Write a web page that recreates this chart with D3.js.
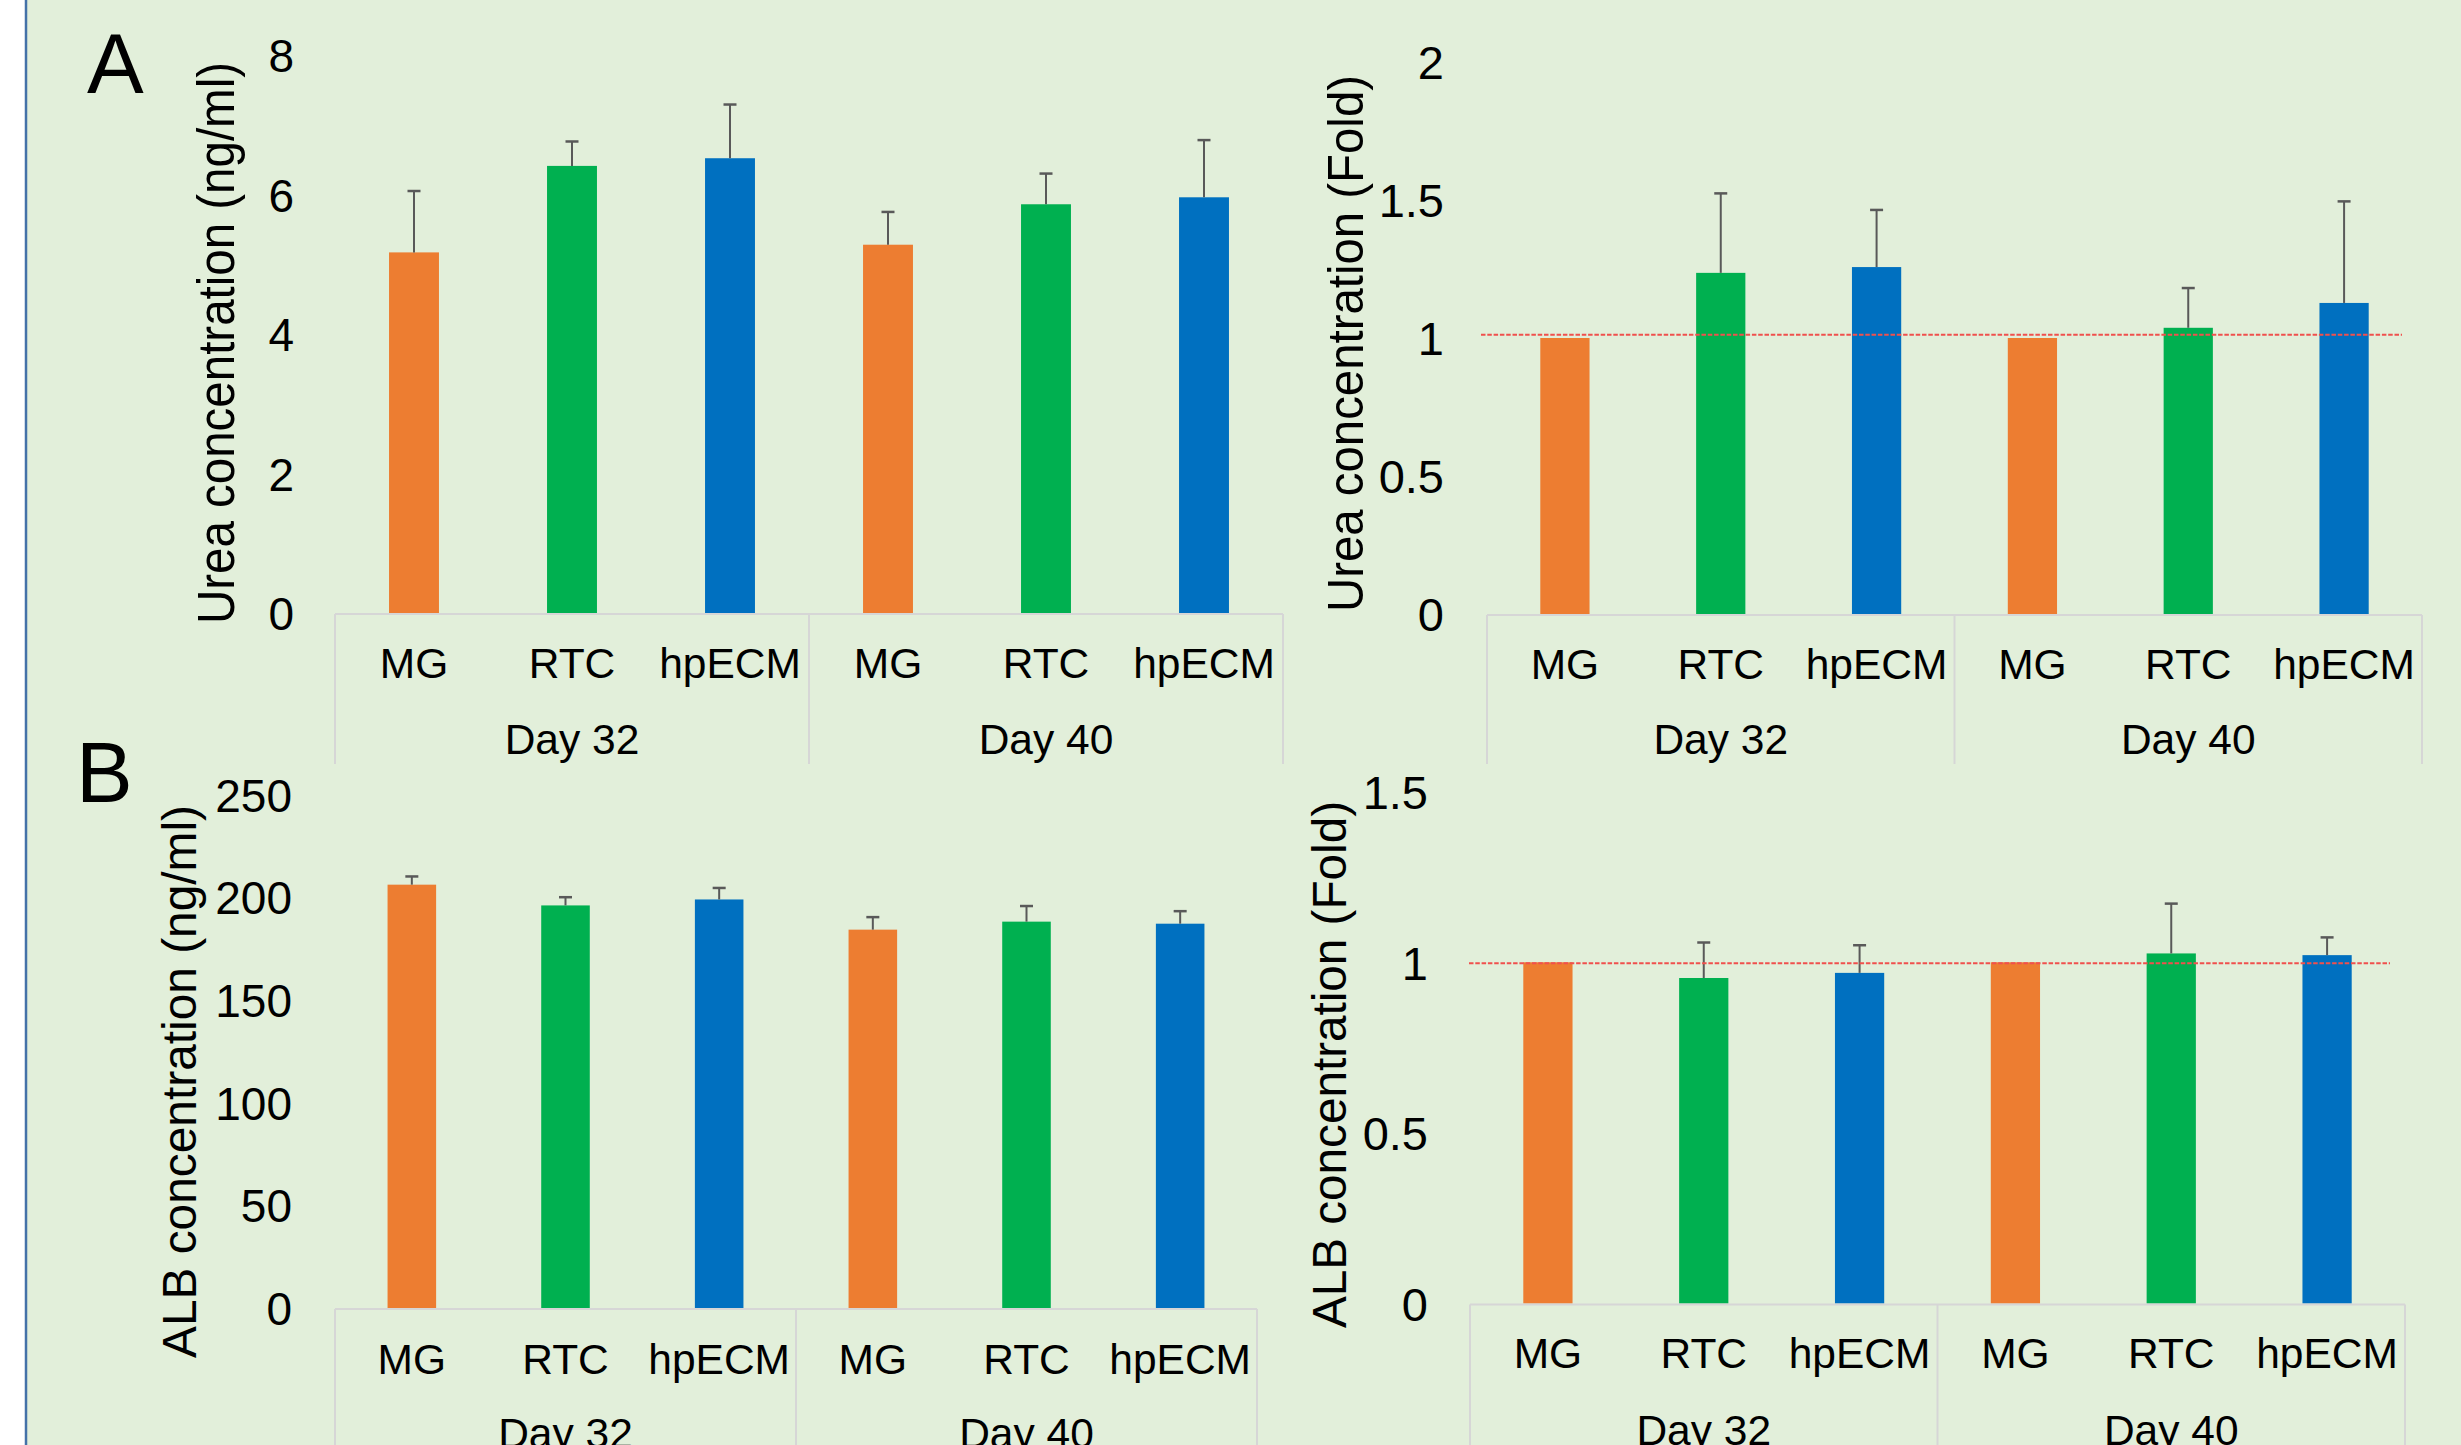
<!DOCTYPE html>
<html>
<head>
<meta charset="utf-8">
<script src="https://cdn.jsdelivr.net/npm/d3@7"></script>
<style>
  html, body { margin: 0; padding: 0; background: #ffffff; }
  svg { display: block; }
  text { font-family: "Liberation Sans", Arial, sans-serif; fill: #000; }
</style>
</head>
<body>
<script>
// ---------------- DATA ----------------
const days = ["Day 32", "Day 40"];
const materials = ["MG", "RTC", "hpECM"];

const ureaMean    = [5.17, 6.41, 6.52, 5.28, 5.86, 5.96];
const ureaErr     = [0.88, 0.35, 0.77, 0.47, 0.44, 0.82];
const ureaFold    = [1.00, 1.236, 1.257, 1.00, 1.037, 1.127];
const ureaFoldErr = [0, 0.288, 0.207, 0, 0.144, 0.368];

const albMean     = [206.1, 196.0, 198.9, 184.2, 188.1, 187.1];
const albErr      = [4.0, 4.0, 5.6, 6.1, 7.6, 6.1];
const albFold     = [1.00, 0.954, 0.969, 1.00, 1.026, 1.021];
const albFoldErr  = [0, 0.104, 0.081, 0, 0.146, 0.052];

const ureaTicks     = [0, 2, 4, 6, 8];
const ureaFoldTicks = [0, 0.5, 1, 1.5, 2];
const albTicks      = [0, 50, 100, 150, 200, 250];
const albFoldTicks  = [0, 0.5, 1, 1.5];

const foldReference = [1.012, 0.997];   // dotted reference level (fold = 1)

// ---------------- LAYOUT / STYLE ----------------
const W = 2461, H = 1445;
const colors = ["#ED7D31", "#00B050", "#0070C0"];
const bg = "#E2EFDA";

const svg = d3.select("body").append("svg")
  .attr("width", W).attr("height", H);

svg.append("rect").attr("x", 0).attr("y", 0).attr("width", W).attr("height", H).attr("fill", "#ffffff");
svg.append("rect").attr("x", 26).attr("y", 0).attr("width", W - 26).attr("height", H).attr("fill", bg);
svg.append("line").attr("x1", 26).attr("x2", 26).attr("y1", 0).attr("y2", H)
  .attr("stroke", "#4472A8").attr("stroke-width", 2.5);

const panels = [
  { mean: ureaMean, err: ureaErr, ticks: ureaTicks, max: 8,
    x0: 335, x1: 1283, y0: 613, yTop: 55, tickX: 294, tickFont: 46,
    title: "Urea concentration (ng/ml)", titleX: 234, titleY: 343, titleFont: 52, titleLen: 562,
    catY: 678, dayY: 754, boxBottom: 764, ref: null, fmt: d3.format("d") },
  { mean: ureaFold, err: ureaFoldErr, ticks: ureaFoldTicks, max: 2,
    x0: 1487, x1: 2422, y0: 614, yTop: 62, tickX: 1444, tickFont: 47,
    title: "Urea concentration (Fold)", titleX: 1363, titleY: 343.5, titleFont: 50, titleLen: 537,
    catY: 679, dayY: 754, boxBottom: 764, ref: foldReference[0], refX0: 1481, refX1: 2402,
    fmt: d => String(d) },
  { mean: albMean, err: albErr, ticks: albTicks, max: 250,
    x0: 335, x1: 1257, y0: 1308, yTop: 794.5, tickX: 292, tickFont: 46,
    title: "ALB concentration (ng/ml)", titleX: 196, titleY: 1081.5, titleFont: 47.5, titleLen: 553,
    catY: 1374, dayY: 1448, boxBottom: H + 5, ref: null, fmt: d3.format("d") },
  { mean: albFold, err: albFoldErr, ticks: albFoldTicks, max: 1.5,
    x0: 1470, x1: 2405, y0: 1303.5, yTop: 791.7, tickX: 1428, tickFont: 47,
    title: "ALB concentration (Fold)", titleX: 1346, titleY: 1064.5, titleFont: 47.5, titleLen: 527,
    catY: 1368, dayY: 1445, boxBottom: H + 5, ref: foldReference[1], refX0: 1469, refX1: 2390,
    fmt: d => String(d) }
];

const catIdx = d3.range(days.length * materials.length);

panels.forEach(p => {
  const g = svg.append("g");
  const x = d3.scaleBand().domain(catIdx).range([p.x0, p.x1]).padding(0);
  const y = d3.scaleLinear().domain([0, p.max]).range([p.y0, p.yTop]);
  const bw = x.bandwidth() * 0.316;

  // bars
  g.selectAll("rect.bar").data(p.mean).join("rect")
    .attr("class", "bar")
    .attr("x", (d, i) => x(i) + x.bandwidth() / 2 - bw / 2)
    .attr("width", bw)
    .attr("y", d => y(d))
    .attr("height", d => y(0) - y(d))
    .attr("fill", (d, i) => colors[i % materials.length]);

  // error bars (upper)
  const eb = g.selectAll("g.err").data(p.mean.map((m, i) => ({ m, e: p.err[i], i })).filter(d => d.e > 0))
    .join("g").attr("class", "err");
  eb.append("line")
    .attr("x1", d => x(d.i) + x.bandwidth() / 2).attr("x2", d => x(d.i) + x.bandwidth() / 2)
    .attr("y1", d => y(d.m)).attr("y2", d => y(d.m + d.e))
    .attr("stroke", "#595959").attr("stroke-width", 2);
  eb.append("line")
    .attr("x1", d => x(d.i) + x.bandwidth() / 2 - 6.5).attr("x2", d => x(d.i) + x.bandwidth() / 2 + 6.5)
    .attr("y1", d => y(d.m + d.e)).attr("y2", d => y(d.m + d.e))
    .attr("stroke", "#595959").attr("stroke-width", 2.5);

  // category axis box lines
  const lineCol = "#D6D6D6";
  g.append("line").attr("x1", p.x0).attr("x2", p.x1).attr("y1", y(0) + 1).attr("y2", y(0) + 1)
    .attr("stroke", lineCol).attr("stroke-width", 2);
  const divs = [p.x0, x(materials.length), p.x1];
  g.selectAll("line.div").data(divs).join("line").attr("class", "div")
    .attr("x1", d => d).attr("x2", d => d)
    .attr("y1", y(0) + 1).attr("y2", p.boxBottom)
    .attr("stroke", lineCol).attr("stroke-width", 2);

  // category labels
  const xAxis = d3.axisBottom(x).tickSize(0).tickPadding(0)
    .tickFormat(i => materials[i % materials.length]);
  const ax = g.append("g").attr("transform", `translate(0,${p.catY})`).call(xAxis);
  ax.select(".domain").remove();
  ax.selectAll("text").attr("dy", 0).attr("y", 0)
    .style("font-size", "42.5px").style("font-family", '"Liberation Sans", Arial, sans-serif').attr("fill", "#000");

  // day labels
  g.selectAll("text.day").data(days).join("text").attr("class", "day")
    .attr("x", (d, k) => (x(k * materials.length) + x(k * materials.length + materials.length - 1) + x.bandwidth()) / 2)
    .attr("y", p.dayY)
    .attr("text-anchor", "middle")
    .style("font-size", "42.5px")
    .text(d => d);

  // y axis tick labels
  const yAxis = d3.axisLeft(y).tickValues(p.ticks).tickSize(0).tickPadding(0).tickFormat(p.fmt);
  const ay = g.append("g").attr("transform", `translate(${p.tickX},0)`).call(yAxis);
  ay.select(".domain").remove();
  ay.selectAll("text").attr("dy", "0.36em")
    .style("font-size", p.tickFont + "px").style("font-family", '"Liberation Sans", Arial, sans-serif').attr("fill", "#000");

  // y title
  g.append("text")
    .attr("transform", `translate(${p.titleX},${p.titleY}) rotate(-90)`)
    .attr("text-anchor", "middle")
    .attr("textLength", p.titleLen)
    .attr("lengthAdjust", "spacingAndGlyphs")
    .style("font-size", p.titleFont + "px")
    .text(p.title);

  // reference dotted line
  if (p.ref !== null) {
    g.append("line")
      .attr("x1", p.refX0).attr("x2", p.refX1)
      .attr("y1", y(p.ref)).attr("y2", y(p.ref))
      .attr("stroke", "#F0504D").attr("stroke-width", 2)
      .attr("stroke-dasharray", "4.5,1.8");
  }
});

// panel letters
svg.append("text").attr("x", 87).attr("y", 93).style("font-size", "85px").text("A");
svg.append("text").attr("x", 76).attr("y", 802).style("font-size", "85px").text("B");
</script>
</body>
</html>
